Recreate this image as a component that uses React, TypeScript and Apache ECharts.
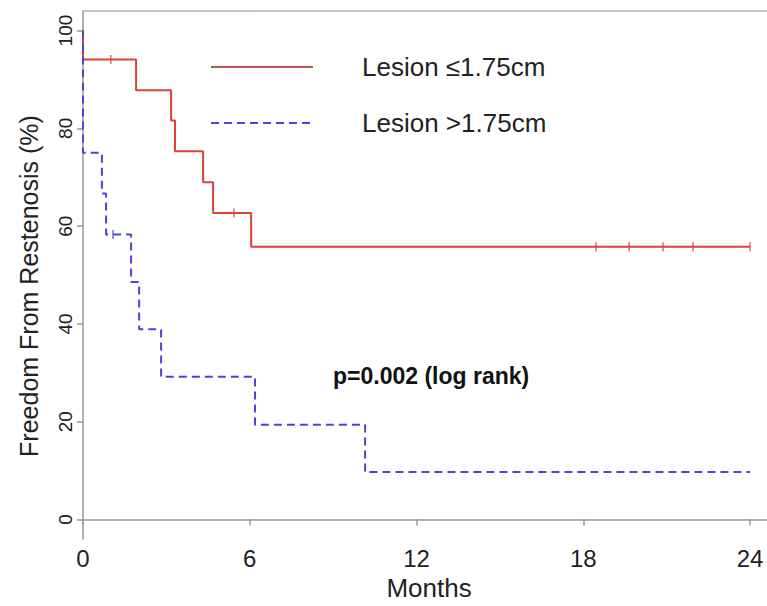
import React, { useEffect, useRef } from "react";
import * as echarts from "echarts";

const months = [0, 6, 12, 18, 24];
const yTicks = [0, 20, 40, 60, 80, 100];

const shortName = "Lesion ≤1.75cm";
const longName = "Lesion >1.75cm";

// Kaplan-Meier steps: [time (months), survival after the step (%)]
const shortTimes = [0, 0, 1.91, 3.17, 3.31, 4.32, 4.68, 6.05, 24];
const shortSurv = [100, 94.1, 87.8, 81.6, 75.3, 69.0, 62.7, 55.8, 55.8];
const shortCensorTimes = [1.0, 5.43, 18.46, 19.65, 20.87, 21.95, 24];
const shortCensorSurv = [94.1, 62.7, 55.8, 55.8, 55.8, 55.8, 55.8];

const longTimes = [0, 0, 0.68, 0.83, 1.73, 2.02, 2.81, 6.19, 10.15, 24];
const longSurv = [100, 75, 66.7, 58.3, 48.6, 38.9, 29.2, 19.4, 9.7, 9.7];
const longCensorTimes = [1.08];
const longCensorSurv = [58.3];

const pText = "p=0.002 (log rank)";

const FONT = "'Liberation Sans', Arial, sans-serif";
const RED = "#dc4336";
const BLUE = "#4646d8";
const X_MAX = 24.61;

const zip = (a: number[], b: number[]) => a.map((v, i) => [v, b[i]]);

export default function App() {
  const ref = useRef<HTMLDivElement>(null);
  useEffect(() => {
    if (!ref.current) return;
    const chart = echarts.init(ref.current, undefined, { renderer: "svg" });
    chart.setOption({
      animation: false,
      backgroundColor: "#ffffff",
      textStyle: { fontFamily: FONT },
      grid: {
        left: 83,
        right: 0,
        top: 11,
        bottom: 63,
        show: false,
      },
      legend: {
        left: 210,
        top: 52,
        padding: 0,
        orient: "vertical",
        itemWidth: 102,
        itemHeight: 14,
        itemGap: 26,
        itemStyle: { opacity: 0 },
        data: [
          { name: shortName, lineStyle: { color: "#b8544a" } },
          { name: longName },
        ],
        textStyle: {
          fontSize: 26,
          color: "#222",
          lineHeight: 30,
          fontFamily: FONT,
          padding: [0, 0, 0, 44],
        },
      },
      graphic: [
        {
          type: "text",
          left: 333,
          top: 364,
          style: {
            text: pText,
            fontSize: 23,
            fontWeight: "bold",
            fontFamily: FONT,
            fill: "#111",
          },
        },
      ],
      xAxis: [
        {
          type: "value",
          min: 0,
          max: X_MAX,
          name: "Months",
          nameLocation: "middle",
          nameGap: 31,
          nameTextStyle: {
            fontSize: 26,
            color: "#222",
            fontFamily: FONT,
            padding: [0, 0, 0, 8],
          },
          axisLine: { show: true, lineStyle: { color: "#999", width: 1.5 } },
          axisTick: {
            show: true,
            length: 6,
            customValues: months,
            lineStyle: { color: "#999", width: 1.5 },
          },
          axisLabel: {
            customValues: months,
            fontSize: 24,
            color: "#222",
            margin: 7,
            fontFamily: FONT,
          },
          splitLine: { show: false },
        },
        {
          type: "value",
          position: "top",
          min: 0,
          max: X_MAX,
          axisLine: { show: true, lineStyle: { color: "#b3b3b3", width: 1.5 } },
          axisTick: { show: false },
          axisLabel: { show: false },
          splitLine: { show: false },
        },
      ],
      yAxis: {
        type: "value",
        min: -4,
        max: 104,
        name: "Freedom From Restenosis (%)",
        nameLocation: "middle",
        nameRotate: 90,
        nameGap: 42,
        nameTextStyle: {
          fontSize: 25,
          color: "#222",
          fontFamily: FONT,
          padding: [0, 22, 0, 0],
        },
        axisLine: { show: true, lineStyle: { color: "#999", width: 1.5 } },
        axisTick: {
          show: true,
          length: 6,
          customValues: yTicks,
          lineStyle: { color: "#999", width: 1.5 },
        },
        axisLabel: {
          customValues: yTicks,
          rotate: 90,
          fontSize: 19,
          color: "#222",
          margin: 8,
          fontFamily: FONT,
        },
        splitLine: { show: false },
      },
      series: [
        {
          name: shortName,
          type: "line",
          step: "end",
          symbol: "none",
          data: zip(shortTimes, shortSurv),
          lineStyle: { color: RED, width: 2 },
          itemStyle: { color: RED },
          z: 3,
        },
        {
          name: longName,
          type: "line",
          step: "end",
          symbol: "none",
          data: zip(longTimes, longSurv),
          lineStyle: { color: BLUE, width: 2, type: [8, 5] },
          itemStyle: { color: BLUE },
          z: 4,
        },
        {
          name: "censor-short",
          type: "scatter",
          symbol: "rect",
          symbolSize: [1.5, 9],
          data: zip(shortCensorTimes, shortCensorSurv),
          itemStyle: { color: RED },
          z: 5,
        },
        {
          name: "censor-long",
          type: "scatter",
          symbol: "rect",
          symbolSize: [1.5, 9],
          data: zip(longCensorTimes, longCensorSurv),
          itemStyle: { color: BLUE },
          z: 5,
        },
      ],
    });
    return () => chart.dispose();
  }, []);
  return (
    <div
      ref={ref}
      style={{ position: "fixed", left: 0, top: 0, width: 767, height: 606 }}
    />
  );
}
